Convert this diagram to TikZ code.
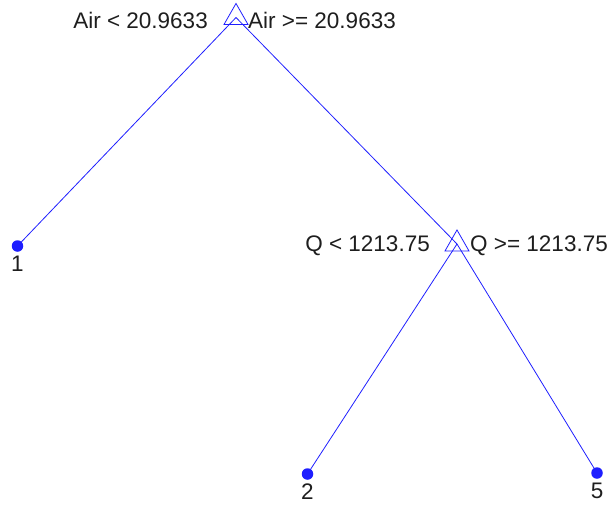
\documentclass[tikz,border=0pt]{standalone}
\usepackage{fontspec}
\setmainfont{Liberation Sans}
\usepackage{tikz}
\usetikzlibrary{shapes.geometric,positioning}
\usepackage{xcolor}
\definecolor{treeblue}{RGB}{30,30,255}
\definecolor{labelgrey}{RGB}{30,30,30}

\begin{document}
\begin{tikzpicture}[x=1pt, y=-1pt,
    split/.style={isosceles triangle, isosceles triangle stretches, shape border rotate=90,
                  minimum width=24pt, minimum height=21pt, inner sep=0pt, draw=treeblue, line width=0.8pt},
    leaf/.style={circle, fill=treeblue, inner sep=0pt, minimum size=11.5pt},
    edge/.style={draw=treeblue, line width=0.8pt},
    txt/.style={font=\fontsize{22.5}{26}\selectfont, text=labelgrey, inner sep=0pt},
    leaflab/.style={txt, below=4pt of #1}
]
    \useasboundingbox (0,0) rectangle (613,504);
    % nodes of the tree
    \node[split] (root) at (236,17.5) {};
    \node[split] (q) at (457,244) {};
    \node[leaf] (n1) at (17.5,246) {};
    \node[leaf] (n2) at (307.5,474) {};
    \node[leaf] (n5) at (597,473) {};
    % branches
    \draw[edge] (root.center) -- (n1.center);
    \draw[edge] (root.center) -- (q.center);
    \draw[edge] (q.center) -- (n2.center);
    \draw[edge] (q.center) -- (n5.center);
    % split rules
    \node[txt, anchor=east] at ([xshift=-28pt, yshift=-3pt]root.center) {Air < 20.9633};
    \node[txt, anchor=west] at ([xshift=12pt, yshift=-3pt]root.center) {Air >= 20.9633};
    \node[txt, anchor=east] at ([xshift=-27pt, yshift=-2pt]q.center) {Q < 1213.75};
    \node[txt, anchor=west] at ([xshift=13pt, yshift=-2pt]q.center) {Q >= 1213.75};
    % leaf numbers
    \node[leaflab=n1] {1};
    \node[leaflab=n2] {2};
    \node[leaflab=n5] {5};
\end{tikzpicture}
\end{document}
